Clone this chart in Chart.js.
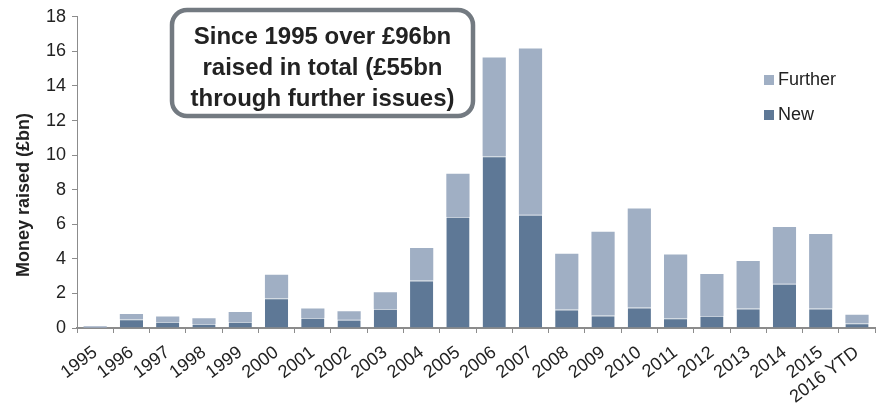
<!DOCTYPE html>
<html>
<head>
<meta charset="utf-8">
<script src="https://cdn.jsdelivr.net/npm/chart.js@4/dist/chart.umd.min.js"></script>
<style>
  html, body { margin: 0; padding: 0; background: #fff; }
</style>
</head>
<body>
<canvas id="raisedChart" width="879" height="403"></canvas>
<script>
var years = ['1995', '1996', '1997', '1998', '1999', '2000', '2001', '2002', '2003', '2004', '2005',
  '2006', '2007', '2008', '2009', '2010', '2011', '2012', '2013', '2014', '2015', '2016 YTD'];

// £bn raised each year
var newIssues = [0.02, 0.51, 0.35, 0.23, 0.35, 1.72, 0.58, 0.47, 1.1, 2.75, 6.42,
  9.93, 6.55, 1.07, 0.72, 1.18, 0.56, 0.69, 1.13, 2.56, 1.13, 0.27];
var furtherIssues = [0.08, 0.3, 0.32, 0.33, 0.57, 1.36, 0.55, 0.5, 0.97, 1.88, 2.5,
  5.72, 9.62, 3.22, 4.85, 5.73, 3.69, 2.43, 2.74, 3.28, 4.31, 0.5];

var yMin = 0, yMax = 18, yStep = 2;

var yTitle = 'Money raised (£bn)';
var noteLines = ['Since 1995 over £96bn', 'raised in total (£55bn', 'through further issues)'];

var NEW_COLOR = '#5e7896';
var FURTHER_COLOR = '#a0afc4';
var AXIS_COLOR = '#8c8c8c';
var TEXT_COLOR = '#222222';
var FONT = "'Liberation Sans', Arial, sans-serif";

// rounded callout box with the summary text
var notePlugin = {
  id: 'note',
  afterDraw: function(chart) {
    var c = chart.ctx;
    var x = 172, y = 10, w = 301, h = 106, r = 15;
    c.save();
    c.beginPath();
    c.roundRect(x, y, w, h, r);
    c.fillStyle = '#ffffff';
    c.fill();
    c.lineWidth = 4.5;
    c.strokeStyle = '#737a81';
    c.stroke();
    c.fillStyle = TEXT_COLOR;
    c.font = 'bold 24px ' + FONT;
    c.textAlign = 'center';
    c.textBaseline = 'middle';
    noteLines.forEach(function(line, i) {
      c.fillText(line, x + w / 2, 37 + i * 31);
    });
    c.restore();
  }
};

// legend listed top-down, Further above New
var legendPlugin = {
  id: 'sideLegend',
  afterDraw: function(chart) {
    var c = chart.ctx;
    var sets = chart.data.datasets.slice().reverse();
    c.save();
    c.font = '18px ' + FONT;
    c.textBaseline = 'middle';
    c.textAlign = 'left';
    sets.forEach(function(ds, i) {
      var cy = 80 + i * 35;
      c.fillStyle = ds.backgroundColor;
      c.fillRect(764, cy - 5, 10, 10);
      c.fillStyle = TEXT_COLOR;
      c.fillText(ds.label, 778, cy);
    });
    c.restore();
  }
};

// y axis title, sitting a little below the middle of the axis
var yTitlePlugin = {
  id: 'yTitle',
  afterDraw: function(chart) {
    var c = chart.ctx;
    c.save();
    c.translate(24, 195);
    c.rotate(-Math.PI / 2);
    c.font = 'bold 18px ' + FONT;
    c.fillStyle = TEXT_COLOR;
    c.textAlign = 'center';
    c.textBaseline = 'middle';
    c.fillText(yTitle, 0, 0);
    c.restore();
  }
};

var ctx = document.getElementById('raisedChart').getContext('2d');
var chart = new Chart(ctx, {
  type: 'bar',
  data: {
    labels: years,
    datasets: [
      {
        label: 'New',
        data: newIssues,
        backgroundColor: NEW_COLOR,
        borderColor: '#c3cdd9',
        borderWidth: { top: 1, left: 0, right: 0, bottom: 0 },
        borderSkipped: false
      },
      {
        label: 'Further',
        data: furtherIssues,
        backgroundColor: FURTHER_COLOR,
        borderWidth: 0
      }
    ]
  },
  options: {
    responsive: false,
    animation: false,
    barPercentage: 0.64,
    categoryPercentage: 1,
    layout: { padding: { top: 15, right: 0, left: 0, bottom: 0 } },
    plugins: {
      legend: { display: false },
      tooltip: { enabled: false }
    },
    scales: {
      x: {
        stacked: true,
        grid: {
          display: true,
          drawOnChartArea: false,
          offset: true,
          tickLength: 5,
          color: AXIS_COLOR
        },
        border: { color: AXIS_COLOR, width: 2 },
        ticks: {
          autoSkip: false,
          maxRotation: 37,
          minRotation: 37,
          padding: 9,
          color: TEXT_COLOR,
          font: { family: FONT, size: 18 }
        },
        afterFit: function(scale) { scale.height = 75; }
      },
      y: {
        stacked: true,
        min: yMin,
        max: yMax,
        grid: {
          display: true,
          drawOnChartArea: false,
          tickLength: 5,
          color: AXIS_COLOR
        },
        border: { color: AXIS_COLOR, width: 1 },
        ticks: {
          stepSize: yStep,
          padding: 6,
          color: TEXT_COLOR,
          font: { family: FONT, size: 18 }
        },
        afterFit: function(scale) { scale.width = 77; }
      }
    }
  },
  plugins: [notePlugin, legendPlugin, yTitlePlugin]
});
</script>
</body>
</html>
